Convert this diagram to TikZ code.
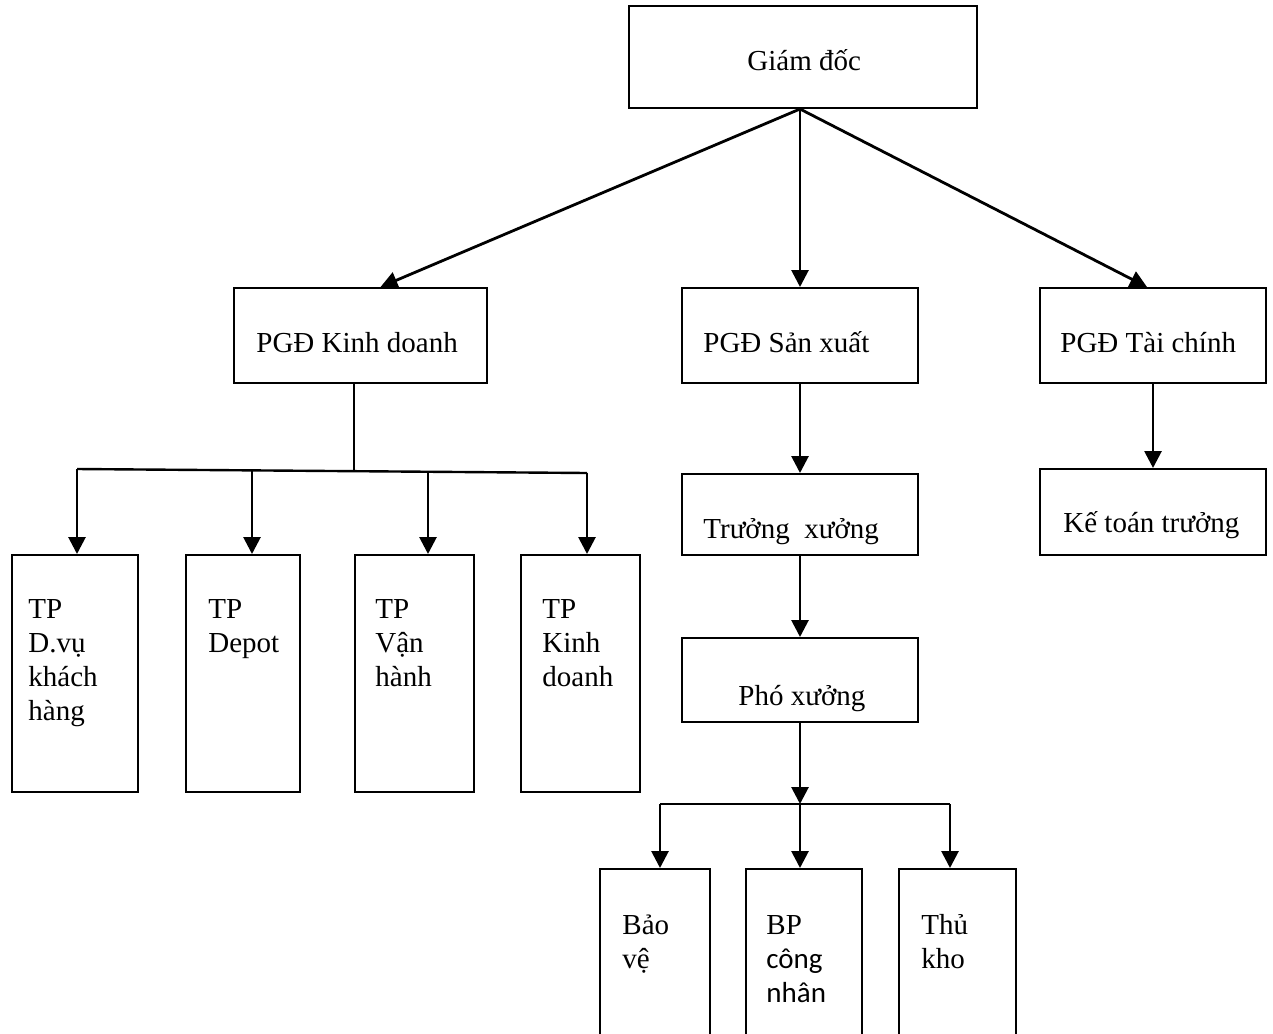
\documentclass[tikz,border=0pt]{standalone}
\usepackage{fontspec}
\setmainfont{Liberation Serif}
\newfontfamily\calibri{Carlito}
\usetikzlibrary{arrows.meta}
\tikzstyle{Box} = [draw, line width=1pt, inner sep=0pt]
\tikzstyle{Txt} = [
anchor=base west,
inner sep=0pt,
align=left,
font=\fontsize{14.5}{17}\selectfont
]
\tikzstyle{Arrow} = [
line width=1.4pt,
-{Triangle[length=8.5pt,width=8.5pt]}
]
\tikzstyle{Line} = [line width=1.2pt]

\begin{document}
\begin{tikzpicture}[x=0.5pt, y=-0.5pt]
            \useasboundingbox (0,0) rectangle (1273,1033);
            \clip (0,0) rectangle (1273,1033);
            % boxes
            \node [Box, minimum width=174pt, minimum height=51pt] (gd) at (803,57) {};
            \node [Box, minimum width=126.5pt, minimum height=47.5pt] (kd) at (360.5,335.5) {};
            \node [Box, minimum width=118pt, minimum height=47.5pt] (sx) at (800,335.5) {};
            \node [Box, minimum width=113pt, minimum height=47.5pt] (tc) at (1153,335.5) {};
            \node [Box, minimum width=118pt, minimum height=40.5pt] (tx) at (800,514.5) {};
            \node [Box, minimum width=118pt, minimum height=42pt] (px) at (800,680) {};
            \node [Box, minimum width=113pt, minimum height=43pt] (ktt) at (1153,512) {};
            \node [Box, minimum width=63pt, minimum height=118.5pt] (tp1) at (75,673.5) {};
            \node [Box, minimum width=57pt, minimum height=118.5pt] (tp2) at (243,673.5) {};
            \node [Box, minimum width=59.5pt, minimum height=118.5pt] (tp3) at (414.5,673.5) {};
            \node [Box, minimum width=59.5pt, minimum height=118.5pt] (tp4) at (580.5,673.5) {};
            \node [Box, minimum width=55pt, minimum height=120.5pt] (bv) at (655,989.5) {};
            \node [Box, minimum width=58pt, minimum height=120.5pt] (bp) at (804,989.5) {};
            \node [Box, minimum width=58.5pt, minimum height=120.5pt] (tk) at (957.5,989.5) {};

            % texts (base = last line)
            \node [Txt] (gdt) at (747,70) {Giám đốc};
            \node [Txt] (kdt) at (256,352) {PGĐ Kinh doanh};
            \node [Txt] (sxt) at (703,352) {PGĐ Sản xuất};
            \node [Txt] (tct) at (1060,352) {PGĐ Tài chính};
            \node [Txt] (txt) at (703,538) {Trưởng\ \ xưởng};
            \node [Txt] (pxt) at (738,705) {Phó xưởng};
            \node [Txt] (kttt) at (1063,532) {Kế toán trưởng};
            \node [Txt] (tp1t) at (28,720) {TP\\D.vụ\\khách\\hàng};
            \node [Txt] (tp2t) at (208,652) {TP\\Depot};
            \node [Txt] (tp3t) at (375,686) {TP\\Vận\\hành};
            \node [Txt] (tp4t) at (542,686) {TP\\Kinh\\doanh};
            \node [Txt] (bvt) at (622,968) {Bảo\\vệ};
            \node [Txt] (bpt) at (766,1002) {BP\\{\calibri công}\\{\calibri nhân}};
            \node [Txt] (tkt) at (921,968) {Thủ\\kho};

            % connectors
            \coordinate (gdb) at ([xshift=-1.5pt]gd.south);
            \draw[Arrow] (gdb) to ([xshift=10pt]kd.north);
            \draw[Arrow] (gdb) to (sx.north);
            \draw[Arrow] (gdb) to ([xshift=-3pt]tc.north);
            \draw[Arrow] (sx.south) to (tx.north);
            \draw[Arrow] (tx.south) to (px.north);
            \draw[Arrow] (tc.south) to (ktt.north);

            \coordinate (kdb) at (354,471);
            \draw[line width=0.6pt] ([xshift=-3.25pt]kd.south) to (kdb);
            \draw[Line] ([xshift=1pt]tp1.north |- 0,469) to ([xshift=3.25pt]tp4.north |- 0,473);
            \draw[Arrow] ([xshift=1pt]tp1.north |- 0,469) to ([xshift=1pt]tp1.north);
            \draw[Arrow] ([xshift=4.5pt]tp2.north |- 0,470) to ([xshift=4.5pt]tp2.north);
            \draw[Arrow] ([xshift=6.75pt]tp3.north |- 0,472) to ([xshift=6.75pt]tp3.north);
            \draw[Arrow] ([xshift=3.25pt]tp4.north |- 0,473) to ([xshift=3.25pt]tp4.north);

            \coordinate (pxb) at (800,804);
            \draw[Arrow] (px.south) to (pxb);
            \draw[Line] ([xshift=2.5pt]bv.north |- pxb) to ([xshift=-3.75pt]tk.north |- pxb);
            \draw[Arrow] ([xshift=2.5pt]bv.north |- pxb) to ([xshift=2.5pt]bv.north);
            \draw[Arrow] (pxb) to ([xshift=-2pt]bp.north);
            \draw[Arrow] ([xshift=-3.75pt]tk.north |- pxb) to ([xshift=-3.75pt]tk.north);
        \end{tikzpicture}
\end{document}
